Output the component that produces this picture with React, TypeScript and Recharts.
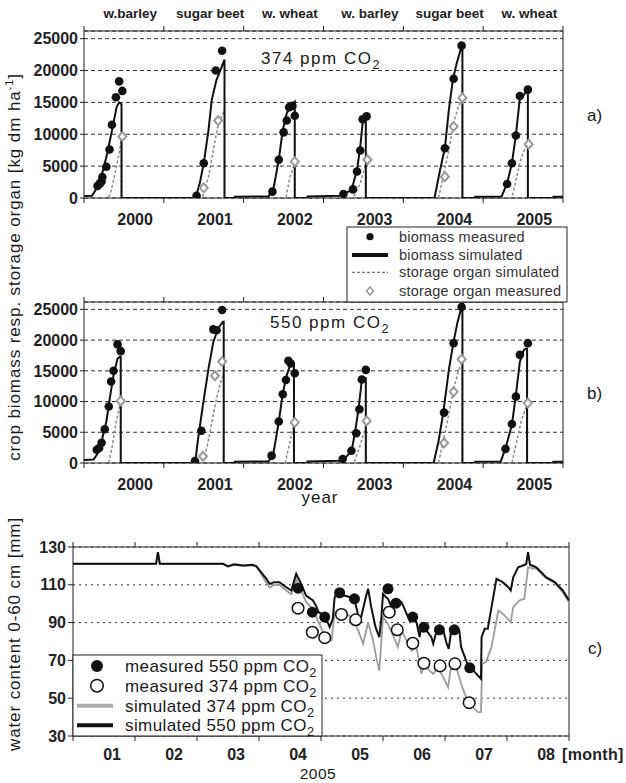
import React from "react";
import {
  CartesianGrid,
  ComposedChart,
  Line,
  ReferenceArea,
  Scatter,
  XAxis,
  YAxis,
} from "recharts";

const FONT = "'Liberation Sans', Arial, Helvetica, sans-serif";

// ---- categories / tick labels ----
const years = [2000, 2001, 2002, 2003, 2004, 2005, 2006];
const yearLabels = ["2000", "2001", "2002", "2003", "2004", "2005"];
const cropLabels = ["w.barley", "sugar beet", "w. wheat", "w. barley", "sugar beet", "w. wheat"];
const monthTicks = [0, 1, 2, 3, 4, 5, 6, 7, 8];
const monthLabels = ["01", "02", "03", "04", "05", "06", "07", "08"];
const biomassTicks = [0, 5000, 10000, 15000, 20000, 25000];
const waterTicks = [30, 50, 70, 90, 110, 130];

// ---- a) 374 ppm CO2 : [decimal year, kg dm/ha] ----
const simBiomassA = [
  [2000.0, 300], [2000.1, 350], [2000.12, 750], [2000.16, 1550], [2000.24, 4400], [2000.3, 7500],
  [2000.36, 11200], [2000.41, 14350], [2000.44, 15000], [2000.47, 14700], [2000.47, 0],
  [2001.37, 0], [2001.41, 600], [2001.45, 2300], [2001.5, 5450], [2001.56, 10700], [2001.6, 15400],
  [2001.66, 18550], [2001.72, 20400], [2001.76, 21700], [2001.76, 0],
  [2001.89, 0], [2001.89, 200], [2002.31, 250], [2002.37, 1250], [2002.44, 6000], [2002.49, 10700],
  [2002.54, 13300], [2002.6, 14600], [2002.64, 15100], [2002.64, 0],
  [2002.8, 0], [2002.8, 250], [2003.2, 350], [2003.23, 470], [2003.35, 1250], [2003.42, 4400],
  [2003.46, 8000], [2003.49, 11750], [2003.51, 12700], [2003.53, 12850], [2003.53, 0],
  [2004.39, 0], [2004.46, 4400], [2004.52, 7800], [2004.57, 13800], [2004.62, 18550], [2004.67, 21200],
  [2004.73, 23800], [2004.74, 23800], [2004.74, 0],
  [2004.9, 0], [2004.9, 200], [2005.23, 250], [2005.3, 2300], [2005.36, 5450], [2005.41, 9900],
  [2005.46, 15700], [2005.51, 16200], [2005.55, 16900], [2005.56, 16900], [2005.56, 0],
  [2005.88, 0], [2005.88, 200], [2006.0, 200],
];
const simStorageA = [
  [2000.0, 0], [2000.3, 0], [2000.33, 600], [2000.39, 3900], [2000.44, 7000], [2000.47, 9600], [2000.47, 0],
  [2001.48, 0], [2001.56, 3350], [2001.62, 7550], [2001.68, 11500], [2001.75, 13550], [2001.76, 13800], [2001.76, 0],
  [2002.53, 0], [2002.58, 3350], [2002.64, 5450], [2002.64, 0],
  [2003.37, 0], [2003.46, 2300], [2003.52, 4900], [2003.53, 5200], [2003.53, 0],
  [2004.44, 0], [2004.5, 3350], [2004.57, 7550], [2004.63, 11750], [2004.69, 14350], [2004.74, 15700], [2004.74, 0],
  [2005.36, 0], [2005.42, 3350], [2005.48, 6500], [2005.55, 8400], [2005.56, 8400], [2005.56, 0],
  [2006.0, 0],
];
const measBiomassA = [
  [2000.17, 1900], [2000.2, 2300], [2000.22, 2600], [2000.23, 3300], [2000.28, 4900], [2000.32, 7600],
  [2000.35, 11500], [2000.4, 15800], [2000.44, 18300], [2000.48, 16800],
  [2001.41, 350], [2001.5, 5450], [2001.65, 20000], [2001.73, 23100],
  [2002.36, 1000], [2002.44, 6000], [2002.5, 10300], [2002.54, 12150], [2002.57, 14250], [2002.61, 14450], [2002.64, 12900],
  [2003.25, 630], [2003.37, 1350], [2003.42, 4150], [2003.46, 7450], [2003.49, 12350], [2003.54, 12800],
  [2004.52, 7800], [2004.63, 18700], [2004.73, 23900],
  [2005.3, 2200], [2005.36, 5450], [2005.41, 9800], [2005.46, 16000], [2005.56, 17000],
];
const measStorageA = [
  [2000.48, 9650], [2001.41, 0], [2001.5, 1600], [2001.68, 12150], [2002.64, 5700], [2003.55, 6000],
  [2004.52, 3350], [2004.63, 11200], [2004.74, 15700], [2005.57, 8450],
];

// ---- b) 550 ppm CO2 ----
const simBiomassB = [
  [2000.0, 500], [2000.12, 550], [2000.16, 1350], [2000.22, 3500], [2000.28, 6750], [2000.33, 11100],
  [2000.37, 14300], [2000.42, 17000], [2000.45, 17300], [2000.46, 17300], [2000.46, 0],
  [2001.37, 0], [2001.4, 800], [2001.43, 4050], [2001.49, 9450], [2001.56, 15400], [2001.62, 19700],
  [2001.68, 21900], [2001.74, 23000], [2001.75, 23000], [2001.75, 0],
  [2001.89, 0], [2001.89, 200], [2002.31, 250], [2002.37, 1350], [2002.44, 6750], [2002.49, 11350],
  [2002.54, 14300], [2002.59, 16200], [2002.63, 16200], [2002.63, 0],
  [2002.8, 0], [2002.8, 250], [2003.2, 350], [2003.24, 400], [2003.35, 1900], [2003.39, 4600],
  [2003.44, 8900], [2003.48, 13500], [2003.52, 13800], [2003.53, 13800], [2003.53, 0],
  [2004.38, 0], [2004.44, 3500], [2004.5, 8100], [2004.57, 15150], [2004.63, 19750], [2004.68, 23000],
  [2004.73, 25400], [2004.74, 25400], [2004.74, 0],
  [2004.9, 0], [2004.9, 200], [2005.22, 250], [2005.28, 2400], [2005.36, 6200], [2005.41, 11100],
  [2005.46, 16500], [2005.51, 18400], [2005.54, 18600], [2005.55, 18600], [2005.55, 0],
  [2005.88, 0], [2005.88, 200], [2006.0, 200],
];
const simStorageB = [
  [2000.0, 0], [2000.31, 0], [2000.35, 2500], [2000.4, 6500], [2000.45, 9500], [2000.46, 9800], [2000.46, 0],
  [2001.48, 0], [2001.54, 2500], [2001.6, 6500], [2001.66, 10500], [2001.72, 13500], [2001.75, 14500], [2001.75, 0],
  [2002.52, 0], [2002.58, 3500], [2002.63, 6300], [2002.63, 0],
  [2003.38, 0], [2003.45, 2500], [2003.52, 5500], [2003.53, 5800], [2003.53, 0],
  [2004.44, 0], [2004.5, 3500], [2004.57, 8000], [2004.63, 12000], [2004.69, 15000], [2004.74, 16500], [2004.74, 0],
  [2005.36, 0], [2005.42, 3500], [2005.48, 7000], [2005.55, 9500], [2005.55, 0],
  [2006.0, 0],
];
const measBiomassB = [
  [2000.16, 2150], [2000.19, 2450], [2000.22, 3300], [2000.26, 5500], [2000.31, 9200], [2000.34, 13250],
  [2000.37, 15000], [2000.42, 19300], [2000.46, 18200],
  [2001.39, 300], [2001.47, 5250], [2001.62, 21750], [2001.66, 21600], [2001.73, 24900],
  [2002.35, 1200], [2002.44, 6750], [2002.49, 11200], [2002.53, 13500], [2002.56, 16650], [2002.59, 16200], [2002.64, 14600],
  [2003.24, 650], [2003.35, 2000], [2003.41, 4850], [2003.45, 8750], [2003.48, 13600], [2003.53, 15150],
  [2004.51, 8200], [2004.63, 19500], [2004.73, 25400],
  [2005.28, 2300], [2005.36, 6350], [2005.41, 10800], [2005.46, 17600], [2005.56, 19500],
];
const measStorageB = [
  [2000.46, 10100], [2001.39, 0], [2001.49, 1100], [2001.64, 14200], [2001.73, 16500], [2002.64, 6600],
  [2003.54, 6850], [2004.51, 3250], [2004.63, 11600], [2004.73, 16900], [2005.56, 9750],
];

// ---- c) water content 2005 : [month (0 = 1 Jan), mm] ----
const simWater550 = [
  [0, 121.1], [1.34, 121.1], [1.37, 127.3], [1.4, 121.1], [2.42, 121.1], [2.5, 119.8], [2.6, 120.8],
  [2.75, 120.2], [2.9, 120.6], [2.96, 119.8], [3.01, 117.6], [3.12, 113.2], [3.17, 110.5], [3.25, 111.4],
  [3.33, 111.4], [3.44, 108.7], [3.52, 107], [3.6, 115.8], [3.68, 110.5], [3.76, 104.3], [3.87, 101.7],
  [3.93, 98.2], [3.96, 95.5], [4.06, 93.8], [4.14, 87.6], [4.19, 92], [4.22, 103.4], [4.25, 105],
  [4.36, 104.5], [4.47, 103.4], [4.54, 102.1], [4.6, 93.8], [4.64, 92], [4.73, 104.3], [4.76, 107.9],
  [4.81, 98.2], [4.88, 87.6], [4.94, 82.3], [4.97, 91.1], [5.0, 105.2], [5.05, 103.4], [5.08, 102.6],
  [5.14, 98.2], [5.19, 100], [5.24, 101.7], [5.3, 100.8], [5.38, 94.7], [5.43, 91.1], [5.48, 93],
  [5.54, 90.2], [5.59, 82.3], [5.62, 88.5], [5.67, 86.8], [5.72, 85], [5.78, 82.3], [5.81, 78.8],
  [5.86, 85], [5.92, 85.9], [5.98, 85], [6.02, 79.6], [6.06, 76.1], [6.1, 85.8], [6.18, 86.8],
  [6.23, 85.9], [6.26, 77], [6.32, 71.7], [6.37, 67.3], [6.43, 66.4], [6.48, 63.8], [6.53, 62],
  [6.58, 60.3], [6.59, 82.3], [6.64, 86.7], [6.69, 86.7], [6.75, 98.2], [6.83, 113.2], [6.93, 111.4],
  [7.02, 108.7], [7.06, 107], [7.1, 114], [7.18, 119.3], [7.26, 120.2], [7.31, 121], [7.34, 127.3],
  [7.37, 120.6], [7.47, 119.3], [7.63, 114], [7.77, 111.4], [7.9, 107], [8.0, 101.7],
];
const simWater374 = [
  [0, 121], [1.34, 121], [1.37, 127.3], [1.4, 121], [2.42, 121], [2.5, 119.5], [2.6, 120.5],
  [2.75, 120], [2.9, 120.3], [2.96, 119.5], [3.01, 117], [3.12, 111], [3.17, 108.5], [3.25, 110],
  [3.33, 110], [3.44, 107], [3.52, 105], [3.6, 113], [3.68, 107], [3.76, 100.8], [3.87, 97.3],
  [3.96, 90.2], [4.06, 83.2], [4.11, 80.5], [4.17, 80.5], [4.22, 95.5], [4.36, 95.5], [4.49, 92.9],
  [4.6, 85.9], [4.68, 78.8], [4.76, 90.2], [4.84, 80.5], [4.89, 71.7], [4.94, 64.6], [5.0, 92.9],
  [5.08, 89.3], [5.16, 83.2], [5.24, 77], [5.3, 85.9], [5.38, 80.5], [5.46, 75.2], [5.54, 77],
  [5.62, 62.9], [5.67, 68.2], [5.75, 64.6], [5.81, 62.9], [5.89, 66.4], [5.97, 61.1], [6.05, 55.8],
  [6.1, 67.3], [6.18, 66.4], [6.26, 57.6], [6.34, 50.5], [6.45, 45.2], [6.53, 42.6], [6.58, 42.6],
  [6.6, 68.2], [6.66, 69.1], [6.75, 77], [6.86, 96.4], [6.96, 93.8], [7.06, 90.2], [7.1, 98.2],
  [7.2, 101.7], [7.28, 102.6], [7.34, 119.3], [7.42, 118.5], [7.47, 118.8], [7.63, 113.5],
  [7.77, 111], [7.9, 106], [8.0, 100.8],
];
const measWater550 = [
  [3.63, 108.2], [3.86, 95.5], [4.06, 92.9], [4.3, 105.8], [4.54, 102.6], [5.08, 107.9],
  [5.21, 100.3], [5.48, 92.9], [5.66, 87.6], [5.91, 86.2], [6.15, 86.2], [6.4, 66.1],
];
const measWater374 = [
  [3.63, 97.6], [3.86, 84.9], [4.06, 82], [4.33, 94.3], [4.56, 91.5], [5.1, 95.5],
  [5.23, 86.2], [5.48, 79.1], [5.66, 68.5], [5.92, 67.1], [6.16, 68.2], [6.39, 47.6],
];

const pts = (a: number[][]) => a.map(([t, v]) => ({ t, v }));

const YEAR_LABEL_SHIFT = 0.64;
const CROP_LABEL_SHIFT = 0.58;
const MONTH_LABEL_SHIFT = 0.63;

const bottomYearTicks = [...years, ...years.slice(0, 6).map((y) => y + YEAR_LABEL_SHIFT)];
const topCropTicks = [...years, ...years.slice(0, 6).map((y) => y + CROP_LABEL_SHIFT)];
const bottomMonthTicks = [...monthTicks, ...monthTicks.slice(0, 8).map((m) => m + MONTH_LABEL_SHIFT)];

// integer ticks -> short tick mark, shifted ticks -> label
function EdgeTick(props: any) {
  const { x, y, payload, dir, dy, labels, base, size } = props;
  const v = payload.value as number;
  if (Number.isInteger(v)) {
    return <line x1={x} x2={x} y1={y} y2={y + dir * 5} stroke="#222" strokeWidth={1} />;
  }
  const label = labels ? labels[Math.floor(v) - base] : "";
  return (
    <text x={x} y={y + dy} textAnchor="middle" fontSize={size} fontWeight="bold" fill="#222" fontFamily={FONT}>
      {label}
    </text>
  );
}

const Dot = (p: any) => <circle cx={p.cx} cy={p.cy} r={4.3} fill="#111" />;
const Diamond = (p: any) => (
  <path
    d={`M${p.cx},${p.cy - 4.5}L${p.cx + 4},${p.cy}L${p.cx},${p.cy + 4.5}L${p.cx - 4},${p.cy}Z`}
    fill="#fff"
    stroke="#999"
    strokeWidth={2}
  />
);
const BigDot = (p: any) => <circle cx={p.cx} cy={p.cy} r={5.5} fill="#111" />;
const OpenCircle = (p: any) => (
  <circle cx={p.cx} cy={p.cy} r={5.8} fill="#fff" stroke="#111" strokeWidth={1.5} />
);

const yTick = { fontSize: 16, fontWeight: "bold", fill: "#222", fontFamily: FONT };

interface CropPanelProps {
  top: number;
  height: number;
  topAxis: number;
  bottomAxis: number;
  crops: boolean;
  simBiomass: number[][];
  simStorage: number[][];
  measBiomass: number[][];
  measStorage: number[][];
}

function CropPanel({ top, height, topAxis, bottomAxis, crops, simBiomass, simStorage, measBiomass, measStorage }: CropPanelProps) {
  return (
    <div style={{ position: "absolute", left: 0, top }}>
      <ComposedChart width={626} height={height} margin={{ top: 0, right: 63, bottom: 0, left: 0 }}>
        <CartesianGrid vertical={false} stroke="#333" strokeDasharray="4 3" />
        <XAxis
          xAxisId="top"
          orientation="top"
          type="number"
          dataKey="t"
          domain={[2000, 2006]}
          allowDataOverflow
          height={topAxis}
          ticks={crops ? topCropTicks : years}
          interval={0}
          tickSize={0}
          tickMargin={0}
          axisLine={false}
          tickLine={false}
          tick={<EdgeTick dir={-1} dy={-13} labels={cropLabels} base={2000} size={13.5} />}
        />
        <XAxis
          type="number"
          dataKey="t"
          domain={[2000, 2006]}
          allowDataOverflow
          height={bottomAxis}
          ticks={bottomYearTicks}
          interval={0}
          tickSize={0}
          tickMargin={0}
          axisLine={false}
          tickLine={false}
          tick={<EdgeTick dir={1} dy={27} labels={yearLabels} base={2000} size={16} />}
        />
        <YAxis
          type="number"
          dataKey="v"
          width={84}
          domain={[0, 26200]}
          allowDataOverflow
          ticks={biomassTicks}
          interval={0}
          tickSize={4}
          tickMargin={2}
          axisLine={false}
          tickLine={{ stroke: "#222" }}
          tick={yTick}
        />
        <ReferenceArea x1={2000} x2={2006} y1={0} y2={26200} fill="none" stroke="#222" strokeWidth={1} />
        <Line
          data={pts(simStorage)}
          dataKey="v"
          type="linear"
          stroke="#8a8a8a"
          strokeWidth={1.5}
          strokeDasharray="3 2"
          dot={false}
          isAnimationActive={false}
        />
        <Line
          data={pts(simBiomass)}
          dataKey="v"
          type="linear"
          stroke="#111"
          strokeWidth={2}
          dot={false}
          isAnimationActive={false}
        />
        <Scatter data={pts(measStorage)} dataKey="v" shape={Diamond} isAnimationActive={false} />
        <Scatter data={pts(measBiomass)} dataKey="v" shape={Dot} isAnimationActive={false} />
      </ComposedChart>
    </div>
  );
}

function WaterPanel() {
  return (
    <div style={{ position: "absolute", left: 0, top: 520 }}>
      <ComposedChart width={626} height={263} margin={{ top: 0, right: 57, bottom: 0, left: 0 }}>
        <CartesianGrid vertical={false} stroke="#333" strokeDasharray="2 4" />
        <XAxis
          xAxisId="top"
          orientation="top"
          type="number"
          dataKey="t"
          domain={[0, 8]}
          allowDataOverflow
          height={27}
          ticks={monthTicks}
          interval={0}
          tickSize={0}
          tickMargin={0}
          axisLine={false}
          tickLine={false}
          tick={<EdgeTick dir={-1} dy={0} size={16} />}
        />
        <XAxis
          type="number"
          dataKey="t"
          domain={[0, 8]}
          allowDataOverflow
          height={47}
          ticks={bottomMonthTicks}
          interval={0}
          tickSize={0}
          tickMargin={0}
          axisLine={false}
          tickLine={false}
          tick={<EdgeTick dir={1} dy={24} labels={monthLabels} base={0} size={16} />}
        />
        <YAxis
          type="number"
          dataKey="v"
          width={73}
          domain={[30, 130]}
          allowDataOverflow
          ticks={waterTicks}
          interval={0}
          tickSize={5}
          tickMargin={2}
          axisLine={false}
          tickLine={{ stroke: "#222" }}
          tick={yTick}
        />
        <ReferenceArea x1={0} x2={8} y1={30} y2={130} fill="none" stroke="#222" strokeWidth={1} />
        <Line
          data={pts(simWater374)}
          dataKey="v"
          type="linear"
          stroke="#9c9c9c"
          strokeWidth={1.8}
          dot={false}
          isAnimationActive={false}
        />
        <Line
          data={pts(simWater550)}
          dataKey="v"
          type="linear"
          stroke="#111"
          strokeWidth={2}
          dot={false}
          isAnimationActive={false}
        />
        <Scatter data={pts(measWater374)} dataKey="v" shape={OpenCircle} isAnimationActive={false} />
        <Scatter data={pts(measWater550)} dataKey="v" shape={BigDot} isAnimationActive={false} />
      </ComposedChart>
    </div>
  );
}

function Co2({ x, y, text, size, anchor = "start", ls = 0 }: any) {
  return (
    <text x={x} y={y} fontSize={size} fill="#1a1a1a" textAnchor={anchor} letterSpacing={ls}>
      {text}CO
      <tspan dy={size * 0.3} fontSize={size * 0.75}>2</tspan>
    </text>
  );
}

function Overlay() {
  const legendAB = [236.7, 255, 272.3, 291];
  const legendC = [666, 685.7, 705.7, 725.3];
  return (
    <svg
      width={626}
      height={783}
      style={{ position: "absolute", left: 0, top: 0, pointerEvents: "none", fontFamily: FONT }}
    >
      <Co2 x={321} y={64} text="374 ppm " size={17} anchor="middle" ls={1.5} />
      <Co2 x={330} y={328} text="550 ppm " size={17} anchor="middle" ls={1.5} />
      <text x={587} y={121} fontSize={17} fill="#1a1a1a">a)</text>
      <text x={587} y={399} fontSize={17} fill="#1a1a1a">b)</text>
      <text x={588} y={654} fontSize={17} fill="#1a1a1a">c)</text>
      <text x={320} y={503} fontSize={17} fill="#1a1a1a" textAnchor="middle" letterSpacing={1}>year</text>
      <text x={318} y={779} fontSize={15.5} fill="#1a1a1a" textAnchor="middle" letterSpacing={0.5}>2005</text>
      <text x={562} y={760} fontSize={16} fontWeight="bold" fill="#222" letterSpacing={0.3}>[month]</text>
      <text transform="translate(20,267) rotate(-90)" fontSize={17} fill="#1a1a1a" textAnchor="middle" letterSpacing={0.9}>
        crop biomass resp. storage organ [kg dm ha
        <tspan dy={-7} fontSize={11}>-1</tspan>
        <tspan dy={7}>]</tspan>
      </text>
      <text transform="translate(20,634) rotate(-90)" fontSize={17} fill="#1a1a1a" textAnchor="middle" letterSpacing={0.9}>
        water content 0-60 cm [mm]
      </text>

      {/* legend a/b */}
      <rect x={347} y={227} width={220} height={75} fill="#fff" stroke="#222" strokeWidth={1} />
      <circle cx={370} cy={legendAB[0]} r={3.6} fill="#111" />
      <line x1={352} x2={388} y1={legendAB[1]} y2={legendAB[1]} stroke="#111" strokeWidth={4} />
      <line x1={352} x2={388} y1={legendAB[2]} y2={legendAB[2]} stroke="#777" strokeWidth={1.3} strokeDasharray="3 2" />
      <path
        d={`M370,${legendAB[3] - 4}L373.5,${legendAB[3]}L370,${legendAB[3] + 4}L366.5,${legendAB[3]}Z`}
        fill="#fff"
        stroke="#999"
        strokeWidth={1.5}
      />
      {["biomass measured", "biomass simulated", "storage organ simulated", "storage organ measured"].map((s, i) => (
        <text key={s} x={399} y={legendAB[i] + 5} fontSize={14.5} fill="#333" letterSpacing={0.2}>
          {s}
        </text>
      ))}

      {/* legend c */}
      <rect x={73} y={655} width={249} height={81} fill="#fff" stroke="#222" strokeWidth={1} />
      <circle cx={97} cy={legendC[0]} r={6} fill="#111" />
      <circle cx={97} cy={legendC[1]} r={6.3} fill="#fff" stroke="#111" strokeWidth={1.5} />
      <line x1={77} x2={113} y1={legendC[2]} y2={legendC[2]} stroke="#aaa" strokeWidth={4} />
      <line x1={77} x2={113} y1={legendC[3]} y2={legendC[3]} stroke="#111" strokeWidth={4} />
      {["measured 550 ppm ", "measured 374 ppm ", "simulated 374 ppm ", "simulated 550 ppm "].map((s, i) => (
        <Co2 key={s} x={125} y={legendC[i] + 6} text={s} size={17} ls={0.4} />
      ))}
    </svg>
  );
}

export default function App() {
  return (
    <div style={{ position: "relative", width: 626, height: 783, background: "#fff", fontFamily: FONT }}>
      <style>{"body{margin:0}"}</style>
      <CropPanel
        top={0}
        height={240}
        topAxis={31}
        bottomAxis={42}
        crops
        simBiomass={simBiomassA}
        simStorage={simStorageA}
        measBiomass={measBiomassA}
        measStorage={measStorageA}
      />
      <CropPanel
        top={270}
        height={240}
        topAxis={32}
        bottomAxis={47}
        crops={false}
        simBiomass={simBiomassB}
        simStorage={simStorageB}
        measBiomass={measBiomassB}
        measStorage={measStorageB}
      />
      <WaterPanel />
      <Overlay />
    </div>
  );
}
